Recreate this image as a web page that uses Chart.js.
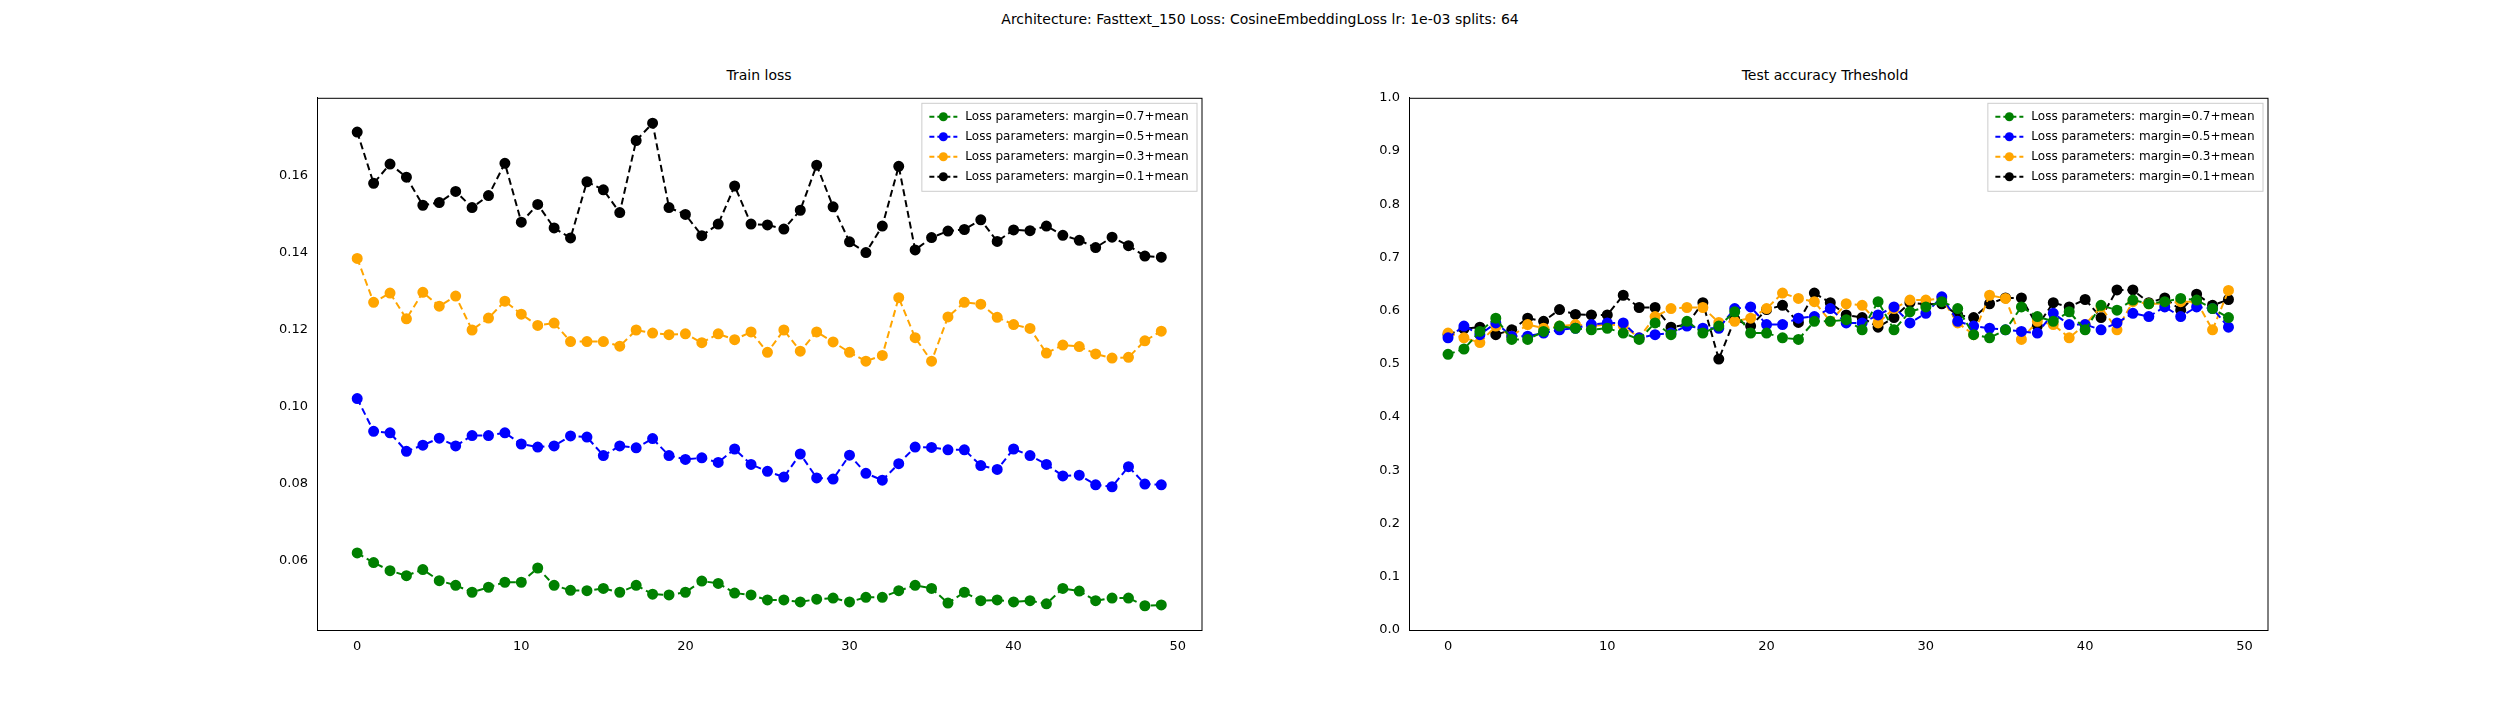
<!DOCTYPE html>
<html>
<head>
<meta charset="utf-8">
<script src="https://cdn.jsdelivr.net/npm/chart.js@4"></script>
<style>
  body { margin: 0; background: #fff; width: 2520px; height: 720px; position: relative; font-family: "DejaVu Sans", sans-serif; overflow: hidden; }
  .t { position: absolute; font-size: 14px; color: #000; white-space: nowrap; transform: translateX(-50%); }
  canvas { position: absolute; }
</style>
</head>
<body>
<div class="t" style="left:1260px; top:11px;">Architecture: Fasttext_150 Loss: CosineEmbeddingLoss lr: 1e-03 splits: 64</div>
<div class="t" style="left:759px; top:67px;">Train loss</div>
<div class="t" style="left:1825px; top:67px;">Test accuracy Trheshold</div>
<div style="position:absolute; left:257px; top:87px; width:951px; height:590px;"><canvas id="c1"></canvas></div>
<div style="position:absolute; left:1349px; top:87px; width:925px; height:590px;"><canvas id="c2"></canvas></div>
<script>
const labels = ['Loss parameters: margin=0.7+mean', 'Loss parameters: margin=0.5+mean',
                'Loss parameters: margin=0.3+mean', 'Loss parameters: margin=0.1+mean'];
const colors = ['green', 'blue', 'orange', 'black'];

// train loss
const trainM07 = [0.0621,0.0596,0.0575,0.0562,0.0578,0.0549,0.0537,0.0519,0.0532,0.0545,
  0.0545,0.0582,0.0537,0.0524,0.0523,0.0529,0.0519,0.0537,0.0514,0.0512,
  0.0519,0.0548,0.0542,0.0517,0.0512,0.0499,0.0499,0.0494,0.0501,0.0504,
  0.0494,0.0506,0.0506,0.0523,0.0537,0.0529,0.0491,0.0519,0.0497,0.0499,
  0.0494,0.0497,0.0489,0.0529,0.0522,0.0497,0.0504,0.0504,0.0484,0.0486];
const trainM05 = [0.1022,0.0937,0.0933,0.0885,0.0901,0.0919,0.0899,0.0926,0.0926,0.0933,
  0.0904,0.0896,0.0899,0.0925,0.0922,0.0874,0.0899,0.0894,0.0918,0.0874,
  0.0864,0.0868,0.0856,0.0891,0.0851,0.0833,0.0818,0.0878,0.0816,0.0813,
  0.0875,0.0828,0.0810,0.0853,0.0896,0.0895,0.0889,0.0889,0.0848,0.0838,
  0.0891,0.0874,0.0851,0.0821,0.0823,0.0798,0.0793,0.0845,0.0800,0.0798];
const trainM03 = [0.1386,0.1272,0.1296,0.1229,0.1298,0.1262,0.1288,0.1200,0.1231,0.1275,
  0.1241,0.1212,0.1218,0.1170,0.1170,0.1170,0.1158,0.1200,0.1192,0.1188,
  0.1190,0.1167,0.1190,0.1175,0.1195,0.1142,0.1200,0.1145,0.1195,0.1169,
  0.1142,0.1119,0.1134,0.1284,0.1180,0.1119,0.1234,0.1272,0.1267,0.1233,
  0.1214,0.1204,0.1140,0.1161,0.1157,0.1138,0.1127,0.1129,0.1172,0.1197];
const trainM01 = [0.1714,0.1581,0.1631,0.1597,0.1524,0.1531,0.1560,0.1518,0.1549,0.1633,
  0.1480,0.1526,0.1465,0.1439,0.1585,0.1564,0.1505,0.1692,0.1737,0.1518,
  0.1500,0.1445,0.1475,0.1574,0.1475,0.1473,0.1462,0.1511,0.1628,0.1520,
  0.1429,0.1401,0.1470,0.1625,0.1408,0.1440,0.1457,0.1461,0.1486,0.1430,
  0.1460,0.1458,0.1470,0.1446,0.1433,0.1414,0.1441,0.1419,0.1392,0.1389];

// test accuracy
const testM07 = [0.518,0.528,0.561,0.586,0.546,0.546,0.561,0.571,0.567,0.564,
  0.567,0.558,0.546,0.577,0.555,0.580,0.558,0.571,0.598,0.558,
  0.558,0.549,0.546,0.580,0.580,0.583,0.564,0.617,0.564,0.598,
  0.607,0.617,0.604,0.555,0.549,0.564,0.607,0.589,0.580,0.598,
  0.564,0.610,0.601,0.620,0.613,0.617,0.623,0.620,0.604,0.587];
const testM05 = [0.549,0.571,0.555,0.577,0.552,0.552,0.558,0.564,0.567,0.574,
  0.577,0.577,0.549,0.555,0.558,0.571,0.567,0.567,0.604,0.607,
  0.574,0.574,0.586,0.589,0.604,0.577,0.577,0.592,0.607,0.577,
  0.595,0.626,0.580,0.571,0.567,0.564,0.561,0.558,0.595,0.574,
  0.574,0.564,0.577,0.595,0.589,0.607,0.589,0.607,0.604,0.569];
const testM03 = [0.558,0.549,0.540,0.571,0.552,0.574,0.567,0.571,0.574,0.571,
  0.574,0.572,0.549,0.589,0.604,0.606,0.606,0.578,0.580,0.586,
  0.604,0.633,0.623,0.617,0.580,0.613,0.610,0.577,0.604,0.620,
  0.620,0.623,0.577,0.555,0.629,0.623,0.546,0.580,0.574,0.549,
  0.574,0.607,0.564,0.617,0.613,0.613,0.617,0.617,0.564,0.638];
const testM01 = [0.555,0.566,0.569,0.555,0.564,0.586,0.580,0.602,0.593,0.592,
  0.592,0.629,0.606,0.606,0.569,0.574,0.615,0.509,0.584,0.571,
  0.602,0.610,0.578,0.633,0.615,0.592,0.587,0.569,0.587,0.615,
  0.612,0.613,0.592,0.587,0.613,0.624,0.624,0.571,0.615,0.607,
  0.621,0.587,0.639,0.639,0.615,0.624,0.601,0.631,0.610,0.621];

const xTicks = [0, 10, 20, 30, 40, 50];
const trainYTicks = [0.06, 0.08, 0.10, 0.12, 0.14, 0.16];
const testYTicks = [0, 0.1, 0.2, 0.3, 0.4, 0.5, 0.6, 0.7, 0.8, 0.9, 1.0];

function makeSets(series) {
  return series.map((s, i) => ({
    label: labels[i],
    data: s.map((v, k) => ({ x: k, y: v })),
    borderColor: colors[i],
    backgroundColor: colors[i],
    borderWidth: 2,
    borderDash: [7, 4],
    pointRadius: 4.5,
    pointHoverRadius: 4.5,
    tension: 0
  }));
}

// box round the plot and legend in the top-right corner
const frame = {
  id: 'frame',
  afterDraw(chart) {
    const { ctx, chartArea: a } = chart;
    ctx.save();
    ctx.strokeStyle = '#000';
    ctx.lineWidth = 1;
    ctx.strokeRect(a.left + 0.5, a.top + 0.5, a.right - a.left, a.bottom - a.top);

    ctx.font = '12px "DejaVu Sans"';
    const textW = Math.max(...labels.map(l => ctx.measureText(l).width));
    const rowH = 20, w = textW + 52, h = rowH * labels.length + 8;
    const x0 = a.right - w - 5, y0 = a.top + 5;
    ctx.fillStyle = 'rgba(255,255,255,0.85)';
    ctx.fillRect(x0, y0, w, h);
    ctx.strokeStyle = '#ccc';
    ctx.strokeRect(x0 + 0.5, y0 + 0.5, w, h);
    labels.forEach((l, i) => {
      const cy = y0 + 14 + i * rowH;
      ctx.strokeStyle = colors[i];
      ctx.lineWidth = 2;
      ctx.setLineDash([5, 3]);
      ctx.beginPath(); ctx.moveTo(x0 + 8, cy); ctx.lineTo(x0 + 36, cy); ctx.stroke();
      ctx.setLineDash([]);
      ctx.fillStyle = colors[i];
      ctx.beginPath(); ctx.arc(x0 + 22, cy, 4.5, 0, Math.PI * 2); ctx.fill();
      ctx.fillStyle = '#000';
      ctx.textBaseline = 'middle';
      ctx.fillText(l, x0 + 44, cy);
    });
    ctx.restore();
  }
};

function makeChart(id, series, yMin, yMax, yTicks, digits) {
  return new Chart(document.getElementById(id), {
    type: 'line',
    data: { datasets: makeSets(series) },
    options: {
      animation: false,
      responsive: true,
      maintainAspectRatio: false,
      layout: { padding: { right: 2, top: 0 } },
      plugins: { legend: { display: false }, tooltip: { enabled: false } },
      scales: {
        x: {
          type: 'linear', min: -2.45, max: 51.45,
          afterBuildTicks: ax => { ax.ticks = xTicks.map(v => ({ value: v })); },
          afterFit: ax => { ax.height = 47; },
          grid: { display: false, drawTicks: true, tickLength: 6, tickColor: '#000' },
          border: { color: '#000' },
          ticks: { color: '#000', font: { size: 13, family: 'DejaVu Sans' }, callback: v => v, maxRotation: 0 }
        },
        y: {
          min: yMin, max: yMax,
          afterBuildTicks: ax => { ax.ticks = yTicks.map(v => ({ value: v })); },
          afterFit: ax => { ax.width = 60; },
          grid: { display: false, drawTicks: true, tickLength: 6, tickColor: '#000' },
          border: { color: '#000' },
          ticks: { color: '#000', font: { size: 13, family: 'DejaVu Sans' }, callback: v => v.toFixed(digits) }
        }
      }
    },
    plugins: [frame]
  });
}

makeChart('c1', [trainM07, trainM05, trainM03, trainM01], 0.0421, 0.1803, trainYTicks, 2);
makeChart('c2', [testM07, testM05, testM03, testM01], 0, 1, testYTicks, 1);
</script>
</body>
</html>
